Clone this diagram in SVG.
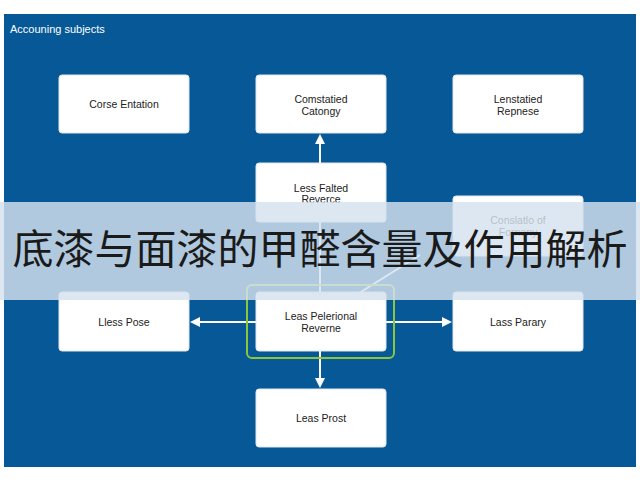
<svg xmlns="http://www.w3.org/2000/svg" width="640" height="480" viewBox="0 0 640 480">
<defs>
<style>
.n{fill:#fff;stroke:#dfe6ee;stroke-width:1}
.t{font-family:"Liberation Sans",Arial,sans-serif;font-size:10.5px;fill:#222;text-anchor:middle}
.c{stroke:#fff;stroke-width:2;fill:none}
</style>
<marker id="a" viewBox="0 0 10 10" refX="8" refY="5" markerWidth="5" markerHeight="5" orient="auto"><path d="M0,0L10,5L0,10z" fill="#fff"/></marker>
</defs>
<rect width="640" height="480" fill="#fff"/>
<rect x="4" y="14" width="632" height="453" fill="#065896"/>
<text x="10" y="33" font-family="Liberation Sans,Arial,sans-serif" font-size="11" fill="#fff">Accouning subjects</text>
<g id="connectors">
<line class="c" x1="320" y1="163" x2="320" y2="136" marker-end="url(#a)"/>
<line class="c" x1="320" y1="222" x2="320" y2="300" marker-end="url(#a)"/>
<line class="c" x1="420" y1="255" x2="348" y2="300" marker-end="url(#a)"/>
<line class="c" x1="256" y1="322" x2="192" y2="322" marker-end="url(#a)"/>
<line class="c" x1="386" y1="322" x2="450" y2="322" marker-end="url(#a)"/>
<line class="c" x1="320" y1="351" x2="320" y2="386" marker-end="url(#a)"/>
</g>
<g id="n1"><rect class="n" x="59" y="75" width="130" height="58" rx="3"/><text class="t" x="124" y="108">Corse Entation</text></g>
<g id="n2"><rect class="n" x="256" y="75" width="130" height="58" rx="3"/><text class="t" x="321" y="103">Comstatied</text><text class="t" x="321" y="115">Catongy</text></g>
<g id="n3"><rect class="n" x="453" y="75" width="130" height="58" rx="3"/><text class="t" x="518" y="103">Lenstatied</text><text class="t" x="518" y="115">Repnese</text></g>
<g id="n4"><rect class="n" x="256" y="163" width="130" height="59" rx="3"/><text class="t" x="321" y="192">Less Falted</text><text class="t" x="321" y="203">Reverce</text></g>
<g id="n5"><rect class="n" x="453" y="196" width="130" height="60" rx="3"/><text class="t" x="518" y="224" fill="#999">Conslatlo of</text><text class="t" x="518" y="236" fill="#999">Fornany</text></g>
<g id="hl"><rect x="247" y="285" width="147" height="73" rx="5" fill="none" stroke="#8cc63f" stroke-width="2"/></g>
<g id="n6"><rect class="n" x="256" y="292" width="130" height="59" rx="3"/><text class="t" x="321" y="320">Leas Pelerional</text><text class="t" x="321" y="332">Reverne</text></g>
<g id="n7"><rect class="n" x="59" y="292" width="130" height="59" rx="3"/><text class="t" x="124" y="326">Lless Pose</text></g>
<g id="n8"><rect class="n" x="453" y="292" width="130" height="59" rx="3"/><text class="t" x="518" y="326">Lass Parary</text></g>
<g id="n9"><rect class="n" x="256" y="389" width="130" height="58" rx="3"/><text class="t" x="321" y="422">Leas Prost</text></g>
<rect x="0" y="202" width="640" height="98" fill="#d6e2ee" fill-opacity="0.82"/>
<text x="320" y="264" text-anchor="middle" font-family="Noto Sans CJK SC,sans-serif" font-size="41" fill="#1a1a1a">底漆与面漆的甲醛含量及作用解析</text>
</svg>
